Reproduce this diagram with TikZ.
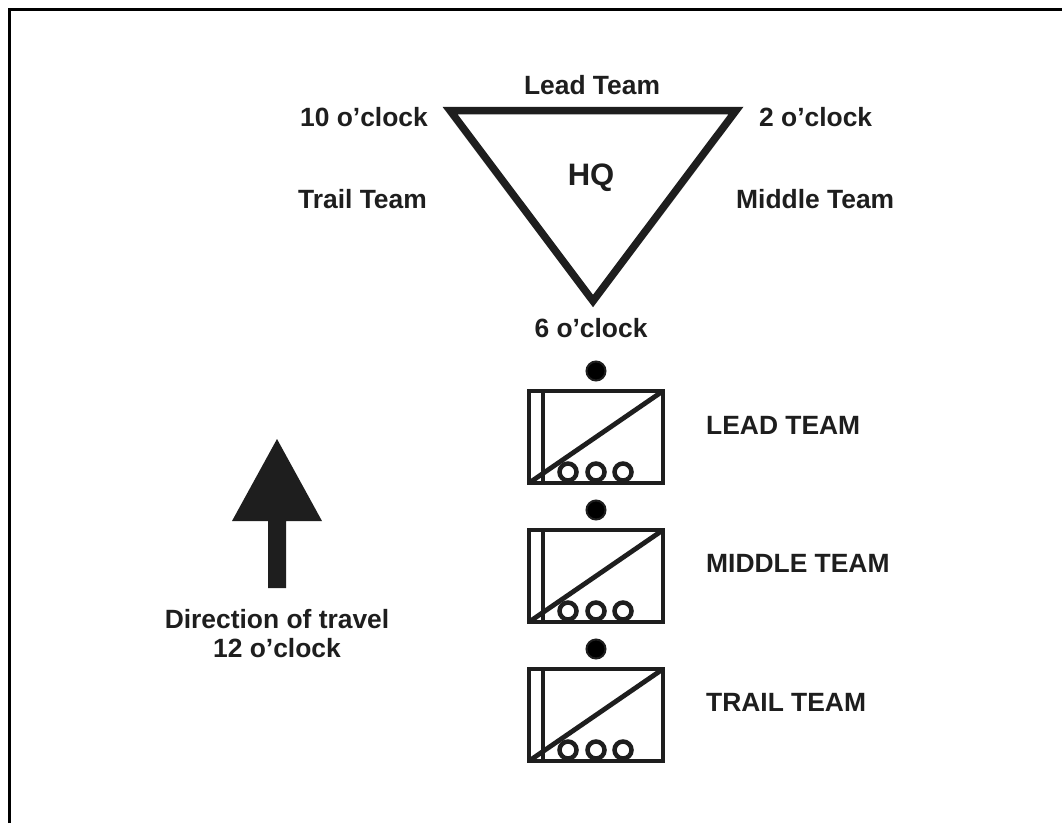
\documentclass[tikz,border=0pt]{standalone}
\usepackage{fontspec}
\setmainfont{Liberation Sans}
\definecolor{ink}{HTML}{1E1E1E}
\tikzset{
  lbl/.style={font=\fontsize{26.4}{29}\selectfont\bfseries, text=ink, inner sep=0pt, align=center},
  hqline/.style={draw=ink, line width=7.5pt, miter limit=10, line join=miter},
  teamline/.style={draw=ink, line width=4.8pt},
  seat/.style={circle, draw=ink, line width=4.5pt, minimum size=17pt, inner sep=0pt},
  lamp/.style={circle, fill=black, draw=ink, line width=2pt, minimum size=19pt, inner sep=0pt}
}
\newcommand{\teamsymbol}[2]{%
  \node[lamp] (#1lamp) at (596,#2-18) {};
  \draw[teamline] (529,#2+2) rectangle (663,#2+94);
  \draw[teamline] (543,#2+2) -- (543,#2+94);
  \draw[teamline] (529,#2+94) -- (663,#2+2);
  \node[seat] (#1a) at (568,#2+83) {};
  \node[seat] (#1b) at (596,#2+83) {};
  \node[seat] (#1c) at (623,#2+83) {};
}
\begin{document}
\begin{tikzpicture}[x=1pt,y=-1pt]
\useasboundingbox (0,0) rectangle (1062,823);
\fill[white] (0,0) rectangle (1062,823);
\draw[line width=3pt, black] (9.5,823) -- (9.5,9.5) -- (1062,9.5);
\draw[hqline] (450,110.5) -- (736,110.5) -- (593,301) -- cycle;
\node[lbl,font=\fontsize{31}{34}\selectfont\bfseries] (hq) at (591,178) {HQ};
\node[lbl] (lead) at (592,85) {Lead Team};
\node[lbl,anchor=east] (ten) at (428,117) {10 o’clock};
\node[lbl,anchor=west] (two) at (759,117) {2 o’clock};
\node[lbl,anchor=east] (trail) at (427,199) {Trail Team};
\node[lbl,anchor=west] (middle) at (736,199) {Middle Team};
\node[lbl] (six) at (591,328) {6 o’clock};
\teamsymbol{l}{389}
\teamsymbol{m}{528}
\teamsymbol{t}{667}
\node[lbl,anchor=west] (leadt) at (706,425) {LEAD TEAM};
\node[lbl,anchor=west] (midt) at (706,563) {MIDDLE TEAM};
\node[lbl,anchor=west] (trailt) at (706,702) {TRAIL TEAM};
\fill[ink] (277,439) -- (322,521) -- (286,521) -- (286,588) -- (268,588) -- (268,521) -- (232,521) -- cycle;
\node[lbl] (dir) at (277,634) {Direction of travel\\12 o’clock};
\end{tikzpicture}
\end{document}
